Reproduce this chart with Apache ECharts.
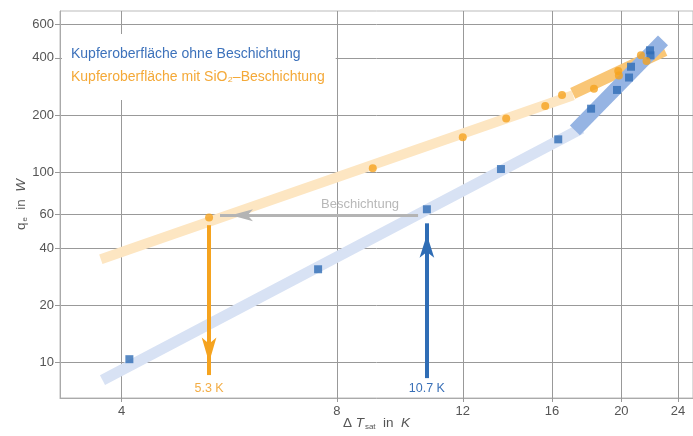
<!DOCTYPE html>
<html><head><meta charset="utf-8">
<script src="https://cdn.jsdelivr.net/npm/echarts@6/dist/echarts.min.js"></script>
<style>html,body{margin:0;padding:0;background:#fff}#c{width:693px;height:436px}</style>
</head><body><div id="c"></div>
<script>
// ---- data ----
const xTicks = [4, 8, 12, 16, 20, 24];
const yTicks = [10, 20, 40, 60, 100, 200, 400, 600];
const nameBlue = 'Kupferoberfläche ohne Beschichtung';
const nameOrange = 'Kupferoberfläche mit SiO₂–Beschichtung';
const dTBlue = [4.10, 7.53, 10.69, 13.57, 16.32, 18.14, 19.72, 20.50, 20.63, 21.93, 21.97];
const qBlue = [10.4, 30.9, 63.9, 104, 149, 216, 271, 315, 359, 438, 412];
const dTOrange = [5.30, 8.98, 12.0, 13.8, 15.65, 16.52, 18.31, 19.80, 19.84, 21.30, 21.69];
const qOrange = [57.8, 105, 153, 192, 223, 255, 275, 341, 323, 413, 385];
// trend bands (start / end)
const bandOrangeLow = [[3.74, 34.9], [17.12, 254]];
const bandOrangeHigh = [[17.1, 260], [23.0, 438]];
const bandBlueLow = [[3.76, 8.07], [17.6, 170]];
const bandBlueHigh = [[17.22, 166], [22.87, 494]];
// annotation arrows (start -> tip)
const arrowOrange = [[5.30, 52.7], [5.30, 8.58]];
const arrowBlue = [[10.69, 8.27], [10.69, 53.9]];
const arrowGray = [[10.39, 59.4], [5.49, 59.4]];
const labelOrange = '5.3 K';
const labelBlue = '10.7 K';
const labelGray = 'Beschichtung';
const labelGrayPos = [8.62, 67.9];

// ---- styles ----
const FONT = '"Liberation Sans", Arial, Helvetica, sans-serif';
const BLUE = '#2f6db5', ORANGE = '#f5a31f';
const zip = (a, b) => a.map((v, i) => [v, b[i]]);

function band(data, color, width) {
  return { type: 'line', data: data, showSymbol: false, symbol: 'none', silent: true, z: 1,
    lineStyle: { color: color, width: width, cap: 'butt' } };
}
function arrow(pts, color, width, head, label, labelPos, labelColor, dist) {
  return {
    silent: true, animation: false,
    lineStyle: { color: color, width: width, type: 'solid', opacity: 1 },
    label: { show: !!label, formatter: label || '', position: labelPos, distance: dist,
      color: labelColor, fontSize: 12.5, fontFamily: FONT },
    emphasis: { disabled: true },
    data: [[
      { coord: pts[0], symbol: 'none' },
      { coord: pts[1], symbol: 'arrow', symbolSize: head, symbolOffset: [0, head[1] / 2] }
    ]]
  };
}

const sOrangeLow = band(bandOrangeLow, '#fde6c2', 10);
sOrangeLow.markLine = arrow(arrowOrange, ORANGE, 4, [11, 25], labelOrange, 'end', '#f3ad45', 7);
const sBlueLow = band(bandBlueLow, '#d8e2f4', 11);
sBlueLow.markLine = arrow(arrowBlue, BLUE, 4, [11, 23], labelBlue, 'start', '#3a70b7', 4);
const sOrangeHigh = band(bandOrangeHigh, '#f9c676', 12);
sOrangeHigh.markLine = arrow(arrowGray, '#b4b4b4', 3, [9, 22], '', 'middle', '#b4b4b4', 5);
sOrangeHigh.markPoint = {
  silent: true, symbol: 'circle', symbolSize: 0,
  label: { show: true, position: 'inside', formatter: labelGray, color: '#b8b8b8', fontSize: 13, fontFamily: FONT },
  data: [{ coord: labelGrayPos }]
};
const sBlueHigh = band(bandBlueHigh, '#96b4e3', 14);

const option = {
  animation: false,
  textStyle: { fontFamily: FONT },
  grid: { left: 60, right: 0, top: 11, bottom: 38, show: true, borderColor: '#bbb', borderWidth: 1, backgroundColor: 'transparent' },
  legend: {
    orient: 'vertical', left: 62, top: 34, padding: [13, 11, 16, 4], itemGap: 9,
    itemWidth: 0, itemHeight: 14, icon: 'none', backgroundColor: '#fff', selectedMode: false,
    textStyle: { fontSize: 14, fontFamily: FONT },
    data: [
      { name: nameBlue, textStyle: { color: '#3d72bb' } },
      { name: nameOrange, textStyle: { color: '#f4a938' } }
    ]
  },
  xAxis: {
    type: 'log', logBase: 10, min: 3.279, max: 25.19,
    name: '{n|Δ }{i|T}{s|sat}{n|  in  }{i|K}', nameLocation: 'middle', nameGap: 18, nameMoveOverlap: false,
    nameTextStyle: { rich: {
      n: { fontSize: 13.5, color: '#555', fontFamily: FONT },
      i: { fontSize: 13.5, color: '#555', fontStyle: 'italic', fontFamily: FONT },
      s: { fontSize: 8, color: '#555', fontFamily: FONT, padding: [7, 0, 0, 1] }
    } },
    axisLine: { show: true, lineStyle: { color: '#aaa' } },
    axisTick: { show: true, customValues: xTicks, length: 4, lineStyle: { color: '#999' } },
    axisLabel: { customValues: xTicks, color: '#555', fontSize: 13, margin: 7, fontFamily: FONT },
    splitLine: { show: true, lineStyle: { color: '#999', width: 1 } },
    minorTick: { show: false }, minorSplitLine: { show: false }
  },
  yAxis: {
    type: 'log', logBase: 10, min: 6.5, max: 705,
    name: '{n|q}{s|e}{n|  in  }{i|W}', nameLocation: 'middle', nameGap: 31, nameRotate: 90, nameMoveOverlap: false,
    nameTextStyle: { rich: {
      n: { fontSize: 13.5, color: '#555', fontFamily: FONT },
      i: { fontSize: 13.5, color: '#555', fontStyle: 'italic', fontFamily: FONT },
      s: { fontSize: 8, color: '#555', fontFamily: FONT, padding: [7, 0, 0, 1] }
    } },
    axisLine: { show: true, lineStyle: { color: '#aaa' } },
    axisTick: { show: true, customValues: yTicks, length: 5, lineStyle: { color: '#999' } },
    axisLabel: { customValues: yTicks, color: '#555', fontSize: 13, margin: 6, fontFamily: FONT },
    splitLine: { show: true, lineStyle: { color: '#999', width: 1 } },
    minorTick: { show: false }, minorSplitLine: { show: false }
  },
  series: [
    sOrangeLow, sBlueLow, sOrangeHigh, sBlueHigh,
    { name: nameBlue, type: 'scatter', data: zip(dTBlue, qBlue), symbol: 'rect', symbolSize: 8,
      itemStyle: { color: BLUE }, z: 3 },
    { name: nameOrange, type: 'scatter', data: zip(dTOrange, qOrange), symbol: 'circle', symbolSize: 8,
      itemStyle: { color: ORANGE }, z: 3 }
  ]
};
const chart = echarts.init(document.getElementById('c'));
chart.setOption(option);
</script>
</body></html>
